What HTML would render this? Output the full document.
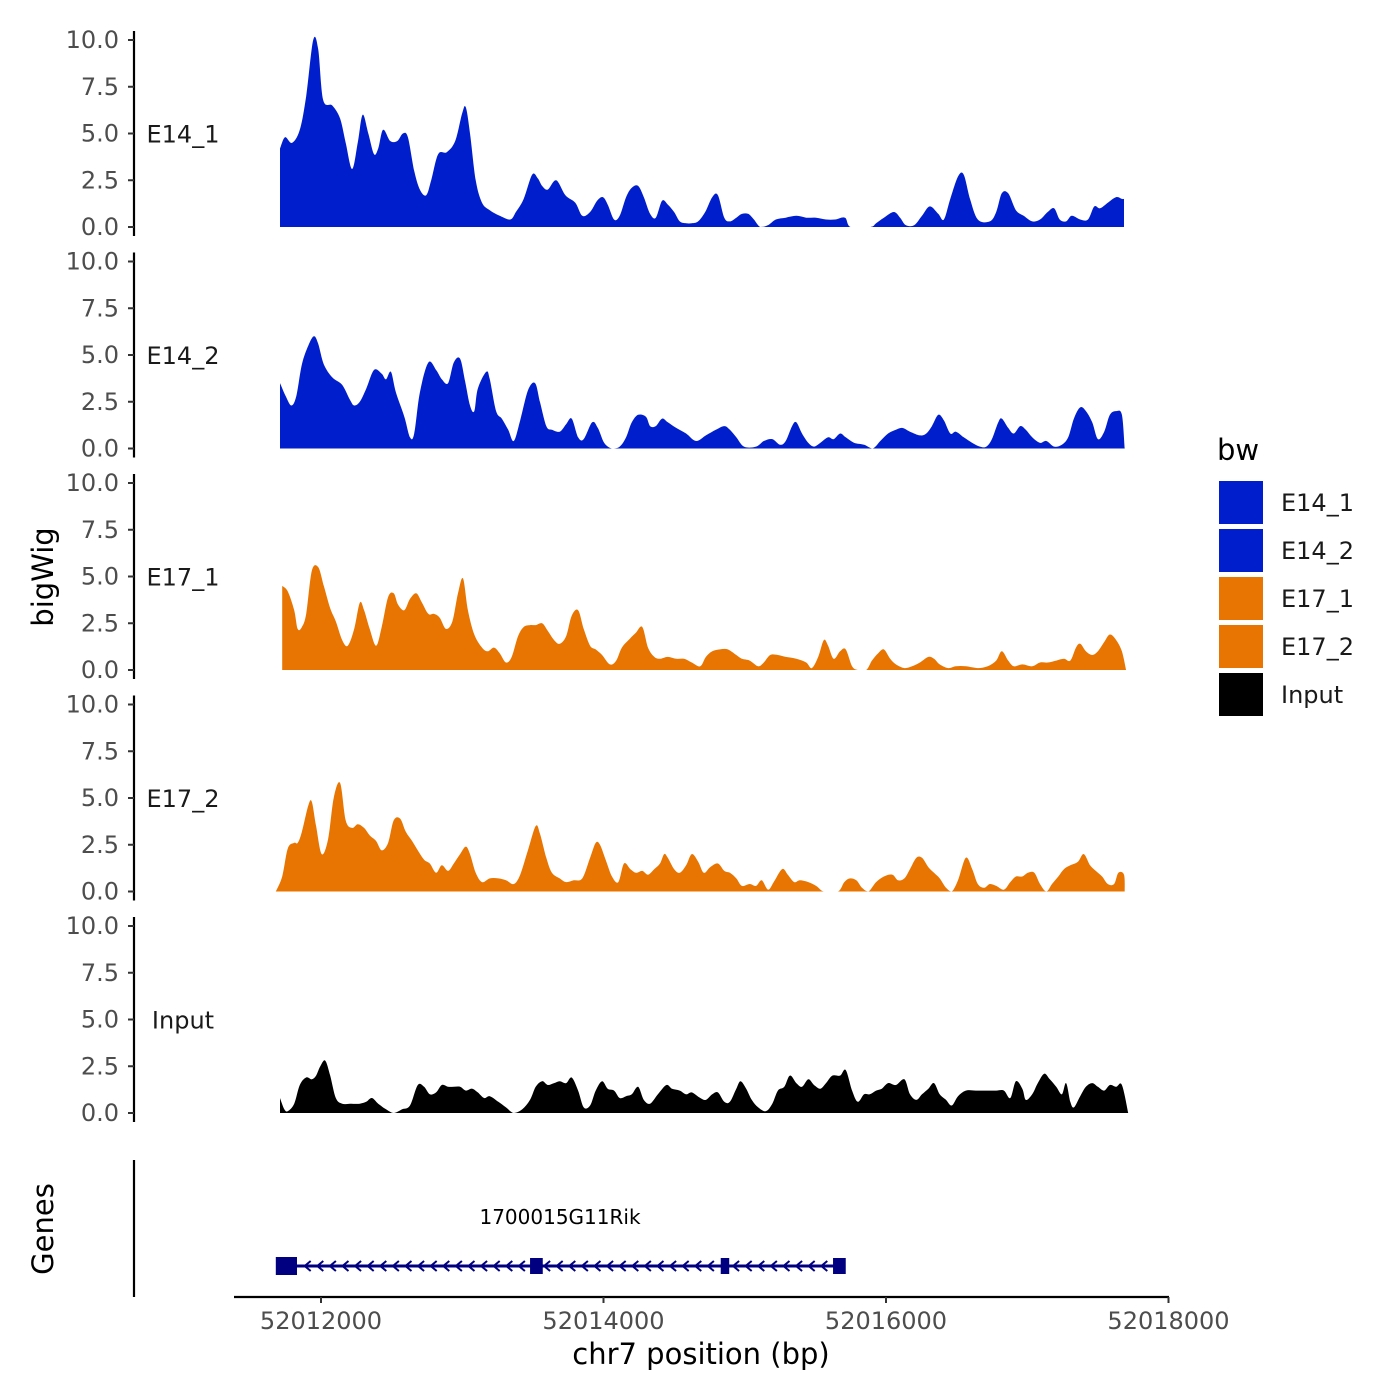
<!DOCTYPE html>
<html>
<head>
<meta charset="utf-8">
<style>
  html,body{margin:0;padding:0;background:#fff;}
  svg{display:block;font-family:"DejaVu Sans","Liberation Sans",sans-serif;}
</style>
</head>
<body>
<svg id="chart" width="1400" height="1400" viewBox="0 0 1400 1400">
  <rect x="0" y="0" width="1400" height="1400" fill="#fff"/>
  <g id="tracks"></g>
  <g id="axes"></g>
  <g id="genes"></g>
  <g id="legend"></g>
</svg>
<script>
// Positions are bp offsets relative to 52,012,000 (chr7)
const chromOrigin = 52012000;
const xTicks = [52012000, 52014000, 52016000, 52018000];
const xTickLabels = ["52012000", "52014000", "52016000", "52018000"];
const yTicks = [0, 2.5, 5, 7.5, 10];
const yTickLabels = ["0.0", "2.5", "5.0", "7.5", "10.0"];
const trackNames = ["E14_1", "E14_2", "E17_1", "E17_2", "Input"];
const trackColors = ["#001ecc", "#001ecc", "#e87502", "#e87502", "#000000"];

const e14_1_pos = [-290,-255,-205,-150,-105,-55,-20,15,80,135,175,220,260,295,335,375,405,440,490,540,580,615,660,700,745,780,830,890,950,1000,1025,1055,1095,1140,1195,1265,1340,1380,1435,1495,1535,1565,1605,1665,1730,1800,1850,1905,1955,1995,2030,2075,2115,2160,2200,2245,2285,2330,2370,2415,2455,2500,2540,2585,2625,2670,2720,2770,2810,2855,2895,2940,2980,3025,3065,3110,3165,3220,3290,3365,3435,3505,3575,3640,3710,3750,3890,3930,3985,4055,4100,4140,4200,4255,4310,4370,4410,4455,4510,4550,4595,4650,4735,4780,4820,4865,4920,4975,5035,5090,5145,5190,5230,5275,5315,5375,5430,5475,5515,5570,5630,5670,5685];
const e14_1_val = [4.2,4.8,4.5,5.2,7.0,10.0,9.5,6.8,6.5,5.8,4.5,3.1,4.5,6.0,5.0,3.9,4.2,5.2,4.6,4.6,5.0,4.8,3.0,2.0,1.7,2.5,3.9,4.0,4.6,6.1,6.4,5.0,2.5,1.3,0.9,0.6,0.4,0.8,1.5,2.8,2.6,2.2,2.0,2.5,1.7,1.3,0.6,0.8,1.4,1.6,1.2,0.4,0.6,1.6,2.1,2.2,1.6,0.7,0.5,1.4,1.2,0.8,0.3,0.2,0.2,0.3,0.8,1.6,1.7,0.5,0.3,0.5,0.7,0.7,0.4,0.0,0.1,0.4,0.5,0.6,0.5,0.5,0.4,0.4,0.5,0.0,0.0,0.2,0.5,0.8,0.5,0.1,0.1,0.6,1.1,0.7,0.4,1.5,2.7,2.8,1.5,0.4,0.3,0.8,1.8,1.8,0.9,0.6,0.3,0.4,0.8,1.0,0.4,0.3,0.6,0.4,0.4,1.1,1.0,1.3,1.6,1.5,1.5];

const e14_2_pos = [-290,-250,-210,-175,-135,-90,-50,-20,20,80,150,205,235,275,320,375,430,460,495,530,590,630,660,700,760,815,855,900,940,985,1020,1055,1085,1110,1170,1195,1240,1280,1325,1365,1410,1465,1515,1550,1595,1635,1690,1735,1775,1820,1860,1920,1960,2005,2060,2115,2160,2200,2245,2300,2330,2370,2415,2455,2515,2585,2655,2725,2795,2855,2895,2940,2995,3080,3135,3195,3250,3290,3335,3365,3405,3450,3490,3535,3590,3630,3675,3715,3775,3845,3905,3960,4015,4070,4115,4170,4240,4285,4325,4370,4410,4455,4495,4550,4610,4665,4710,4750,4795,4820,4865,4905,4950,4990,5035,5090,5135,5190,5245,5290,5330,5375,5415,5460,5500,5545,5585,5630,5670,5690];
const e14_2_val = [3.5,2.8,2.3,2.8,4.5,5.5,6.0,5.6,4.5,3.8,3.4,2.6,2.3,2.5,3.2,4.2,4.0,3.7,4.1,3.0,1.7,0.6,0.8,3.0,4.6,4.2,3.7,3.5,4.6,4.8,3.6,2.3,2.0,3.2,4.1,3.7,2.0,1.6,1.0,0.4,1.5,3.1,3.5,2.5,1.2,1.0,0.9,1.3,1.6,0.6,0.5,1.4,1.1,0.3,0.0,0.1,0.6,1.4,1.8,1.7,1.2,1.2,1.6,1.4,1.1,0.8,0.4,0.7,1.0,1.2,1.0,0.6,0.1,0.1,0.4,0.5,0.2,0.4,1.2,1.4,0.8,0.3,0.1,0.3,0.6,0.5,0.8,0.6,0.3,0.2,0.0,0.4,0.8,1.0,1.1,0.9,0.7,0.8,1.2,1.8,1.5,0.8,0.9,0.6,0.3,0.1,0.1,0.5,1.4,1.6,1.1,0.8,1.2,1.0,0.6,0.3,0.4,0.1,0.2,0.6,1.6,2.2,2.0,1.4,0.5,0.9,1.8,2.0,1.8,0.0];

const e17_1_pos = [-275,-235,-190,-165,-135,-105,-65,-20,20,65,105,150,190,235,275,305,345,390,430,475,515,545,590,630,675,715,760,800,840,885,930,970,1005,1040,1085,1140,1180,1225,1265,1310,1350,1395,1435,1480,1520,1565,1605,1650,1690,1735,1775,1820,1860,1905,1945,1990,2045,2090,2130,2190,2230,2275,2315,2360,2400,2455,2515,2570,2625,2685,2725,2770,2825,2880,2940,2980,3035,3095,3135,3180,3235,3290,3365,3435,3475,3520,3560,3590,3630,3675,3715,3760,3800,3860,3900,3945,3985,4030,4070,4130,4185,4240,4300,4340,4380,4440,4495,4565,4650,4720,4780,4820,4865,4905,4965,5035,5090,5145,5205,5260,5305,5345,5375,5415,5460,5500,5545,5585,5630,5670,5700];
const e17_1_val = [4.5,4.2,3.2,2.2,2.3,3.0,5.3,5.5,4.5,3.3,2.6,1.6,1.3,2.2,3.6,3.2,2.2,1.3,2.3,3.9,4.1,3.5,3.2,3.8,4.1,3.6,3.0,3.0,2.8,2.2,2.6,4.1,4.9,3.2,1.9,1.2,1.0,1.2,0.9,0.4,0.7,1.8,2.3,2.4,2.4,2.5,2.1,1.6,1.4,1.8,2.9,3.2,2.2,1.3,1.1,0.8,0.3,0.5,1.2,1.7,2.0,2.3,1.2,0.7,0.6,0.7,0.6,0.6,0.4,0.2,0.7,1.0,1.1,1.1,0.8,0.6,0.5,0.2,0.4,0.8,0.8,0.7,0.6,0.4,0.1,0.7,1.6,1.3,0.6,1.0,1.1,0.2,0.0,0.0,0.5,0.9,1.1,0.6,0.3,0.1,0.2,0.4,0.7,0.6,0.3,0.1,0.2,0.2,0.1,0.2,0.5,1.0,0.5,0.2,0.3,0.2,0.4,0.4,0.5,0.6,0.5,1.2,1.4,1.0,0.8,1.0,1.5,1.9,1.6,1.0,0.0];

const e17_2_pos = [-320,-275,-235,-190,-165,-135,-90,-65,-35,5,50,90,135,175,220,260,305,345,390,430,475,515,560,600,645,685,730,770,815,855,900,940,985,1025,1055,1095,1140,1195,1255,1310,1365,1410,1465,1520,1550,1595,1635,1690,1735,1790,1850,1905,1945,1975,2020,2060,2105,2145,2190,2230,2275,2315,2360,2400,2430,2455,2500,2540,2585,2625,2670,2710,2755,2810,2855,2895,2940,2980,3035,3080,3120,3165,3205,3265,3305,3350,3390,3450,3505,3560,3660,3705,3745,3790,3830,3875,3930,3985,4045,4085,4130,4170,4215,4255,4300,4340,4380,4425,4465,4510,4565,4610,4650,4695,4735,4780,4835,4880,4920,4965,5005,5050,5090,5135,5175,5220,5260,5305,5360,5400,5445,5485,5530,5570,5615,5645,5685,5690];
const e17_2_val = [0.0,0.8,2.3,2.6,2.6,3.2,4.6,4.8,3.5,2.0,2.8,5.0,5.8,3.8,3.4,3.6,3.4,3.0,2.7,2.2,2.6,3.8,3.9,3.2,2.7,2.2,1.7,1.5,1.0,1.4,1.1,1.5,2.0,2.4,2.0,1.0,0.5,0.7,0.7,0.6,0.4,0.9,2.2,3.5,3.1,1.8,1.0,0.7,0.5,0.6,0.7,1.8,2.6,2.5,1.6,0.8,0.5,1.5,1.2,1.0,1.1,0.9,1.2,1.5,2.0,1.8,1.2,1.0,1.4,2.0,1.6,1.0,1.3,1.5,1.1,1.0,0.7,0.3,0.4,0.3,0.6,0.1,0.5,1.2,0.9,0.5,0.6,0.5,0.3,0.0,0.0,0.5,0.7,0.6,0.2,0.0,0.5,0.8,0.9,0.6,0.7,1.2,1.8,1.8,1.3,1.0,0.7,0.2,0.0,0.6,1.8,1.2,0.4,0.2,0.4,0.3,0.1,0.5,0.8,0.8,1.0,1.0,0.4,0.0,0.4,0.8,1.2,1.4,1.6,2.0,1.4,1.1,0.8,0.4,0.4,1.0,0.9,0.0];

const input_pos = [-290,-260,-235,-190,-150,-105,-65,-35,-5,30,65,105,150,205,275,320,360,405,460,515,575,630,685,730,770,815,855,900,940,985,1025,1070,1110,1155,1195,1255,1310,1365,1425,1480,1520,1565,1605,1650,1690,1735,1775,1820,1860,1905,1945,1990,2030,2075,2115,2160,2200,2245,2285,2330,2385,2445,2485,2540,2585,2625,2685,2725,2770,2810,2855,2895,2940,2970,3010,3050,3095,3150,3195,3235,3280,3320,3365,3405,3450,3490,3535,3575,3620,3675,3715,3760,3800,3845,3885,3930,3970,4015,4070,4130,4170,4215,4255,4300,4340,4380,4425,4465,4510,4565,4635,4710,4780,4835,4880,4920,4965,4990,5035,5075,5120,5160,5205,5245,5275,5305,5330,5375,5415,5460,5500,5545,5585,5630,5670,5715];
const input_val = [0.8,0.2,0.1,0.5,1.5,1.9,1.8,2.0,2.5,2.8,2.0,0.8,0.5,0.5,0.5,0.6,0.8,0.5,0.2,0.0,0.2,0.4,1.5,1.4,1.0,1.1,1.5,1.4,1.4,1.4,1.2,1.3,1.1,0.8,0.9,0.6,0.3,0.0,0.2,0.7,1.4,1.7,1.5,1.6,1.7,1.6,1.9,1.2,0.3,0.4,1.2,1.7,1.3,1.2,0.8,0.9,1.0,1.4,0.7,0.5,1.0,1.5,1.3,1.2,1.0,1.1,0.8,0.7,1.0,1.1,0.6,0.6,1.3,1.7,1.3,0.7,0.3,0.1,0.5,1.2,1.4,2.0,1.6,1.4,1.8,1.5,1.3,1.6,2.0,2.0,2.3,1.2,0.6,1.0,1.0,1.2,1.3,1.6,1.5,1.8,1.0,0.7,1.0,1.3,1.6,1.0,0.7,0.4,0.9,1.2,1.2,1.2,1.2,1.2,0.8,1.7,1.3,0.7,1.0,1.6,2.1,1.8,1.4,1.0,1.6,0.6,0.3,0.9,1.4,1.6,1.4,1.2,1.5,1.4,1.5,0.0];

// Gene model (bp offsets)
const geneName = "1700015G11Rik";
const geneStart = -250;
const geneEnd = 3675;
const exonStarts = [-320, 1480, 2830, 3625];
const exonEnds = [-170, 1570, 2890, 3715];

const trackPos = [e14_1_pos, e14_2_pos, e17_1_pos, e17_2_pos, input_pos];
const trackVal = [e14_1_val, e14_2_val, e17_1_val, e17_2_val, input_val];

const NS = "http://www.w3.org/2000/svg";
function mk(tag, attrs, parent){
  const el = document.createElementNS(NS, tag);
  for (const k in attrs) el.setAttribute(k, attrs[k]);
  parent.appendChild(el);
  return el;
}
function xScale(off){ return 321 + off * 0.14125; }
function xScaleAbs(bp){ return xScale(bp - chromOrigin); }
function baseY(p){ return 227 + p * 221.5; }
function yScale(p, v){ return baseY(p) - v * 18.7; }

const tracks = document.getElementById('tracks');
const axes = document.getElementById('axes');
const genes = document.getElementById('genes');
const legend = document.getElementById('legend');

for (let p = 0; p < trackNames.length; p++){
  const pos = trackPos[p], val = trackVal[p];
  const pts = pos.map((b, i) => [xScale(b), yScale(p, val[i])]);
  const base = baseY(p);
  let d = "M" + pts[0][0].toFixed(1) + "," + base.toFixed(1) + " L" + pts[0][0].toFixed(1) + "," + pts[0][1].toFixed(1);
  for (let i = 0; i < pts.length - 1; i++){
    const p0 = pts[Math.max(0, i-1)], p1 = pts[i], p2 = pts[i+1], p3 = pts[Math.min(pts.length-1, i+2)];
    const c1x = p1[0] + (p2[0]-p0[0])/6, c1y = Math.min(base, p1[1] + (p2[1]-p0[1])/6);
    const c2x = p2[0] - (p3[0]-p1[0])/6, c2y = Math.min(base, p2[1] - (p3[1]-p1[1])/6);
    d += " C" + c1x.toFixed(1) + "," + c1y.toFixed(1) + " " + c2x.toFixed(1) + "," + c2y.toFixed(1) + " " + p2[0].toFixed(1) + "," + p2[1].toFixed(1);
  }
  d += " L" + pts[pts.length-1][0].toFixed(1) + "," + base.toFixed(1) + " Z";
  const area = mk('path', {d: d, fill: trackColors[p], stroke: 'none'}, tracks);
  
  

  const axLine = mk('line', {x1: 134, x2: 134, y1: yScale(p, 10) - 9, y2: baseY(p) + 9, stroke: '#000', 'stroke-width': 2.2}, axes);
  
  
  for (let t = 0; t < yTicks.length; t++){
    const yy = yScale(p, yTicks[t]);
    const tk = mk('line', {x1: 128, x2: 134, y1: yy, y2: yy, stroke: '#333', 'stroke-width': 2}, axes);
    
    
    const tl = mk('text', {x: 119, y: yy + 8, 'text-anchor': 'end', 'font-size': 24, fill: '#4d4d4d'}, axes);
    tl.textContent = yTickLabels[t];
    
    
  }
  const lbl = mk('text', {x: 183, y: yScale(p, 5) + 9, 'text-anchor': 'middle', 'font-size': 24, fill: '#1a1a1a'}, axes);
  lbl.textContent = trackNames[p];
  
  
}

const yt = mk('text', {x: 0, y: 0, transform: 'translate(53,577) rotate(-90)', 'text-anchor': 'middle', 'font-size': 29, fill: '#000'}, axes);
yt.textContent = 'bigWig';


const gt = mk('text', {x: 0, y: 0, transform: 'translate(53,1229) rotate(-90)', 'text-anchor': 'middle', 'font-size': 29, fill: '#000'}, axes);
gt.textContent = 'Genes';



const gAx = mk('line', {x1: 134, x2: 134, y1: 1160, y2: 1297, stroke: '#000', 'stroke-width': 2.2}, axes);


const xAx = mk('line', {x1: 234, x2: 1169, y1: 1297, y2: 1297, stroke: '#000', 'stroke-width': 2.2}, axes);


for (let t = 0; t < xTicks.length; t++){
  const xx = xScaleAbs(xTicks[t]);
  const tk = mk('line', {x1: xx, x2: xx, y1: 1297, y2: 1303, stroke: '#333', 'stroke-width': 2}, axes);
  
  
  const tl = mk('text', {x: xx, y: 1329, 'text-anchor': 'middle', 'font-size': 24, fill: '#4d4d4d'}, axes);
  tl.textContent = xTickLabels[t];
  
  
}
const xt = mk('text', {x: 701, y: 1364, 'text-anchor': 'middle', 'font-size': 29, fill: '#000'}, axes);
xt.textContent = 'chr7 position (bp)';



const gy = 1266;
const gl = mk('line', {x1: xScale(geneStart), x2: xScale(geneEnd), y1: gy, y2: gy, stroke: '#000080', 'stroke-width': 3}, genes);


for (let cx = xScale(geneStart) + 22; cx < xScale(geneEnd) - 8; cx += 12.6){
  const ch = mk('polyline', {points: (cx+3)+','+(gy-5)+' '+(cx-3)+','+gy+' '+(cx+3)+','+(gy+5), fill: 'none', stroke: '#000080', 'stroke-width': 2}, genes);
  
  
}
for (let e = 0; e < exonStarts.length; e++){
  const x1 = xScale(exonStarts[e]), x2 = xScale(exonEnds[e]);
  const h = e === 0 ? 18 : 16;
  const r = mk('rect', {x: x1, y: gy - h/2, width: x2 - x1, height: h, fill: '#000080'}, genes);
  
  
}
const gn = mk('text', {x: 560, y: 1224, 'text-anchor': 'middle', 'font-size': 20, fill: '#000'}, genes);
gn.textContent = geneName;



const lt = mk('text', {x: 1217, y: 460, 'font-size': 29, fill: '#000'}, legend);
lt.textContent = 'bw';


for (let i = 0; i < trackNames.length; i++){
  const ky = 481 + i * 48;
  const k = mk('rect', {x: 1219, y: ky, width: 44, height: 43, fill: trackColors[i]}, legend);
  
  
  const kt = mk('text', {x: 1281, y: ky + 30, 'font-size': 24, fill: '#1a1a1a'}, legend);
  kt.textContent = trackNames[i];
  
  
}
</script>
</body>
</html>
